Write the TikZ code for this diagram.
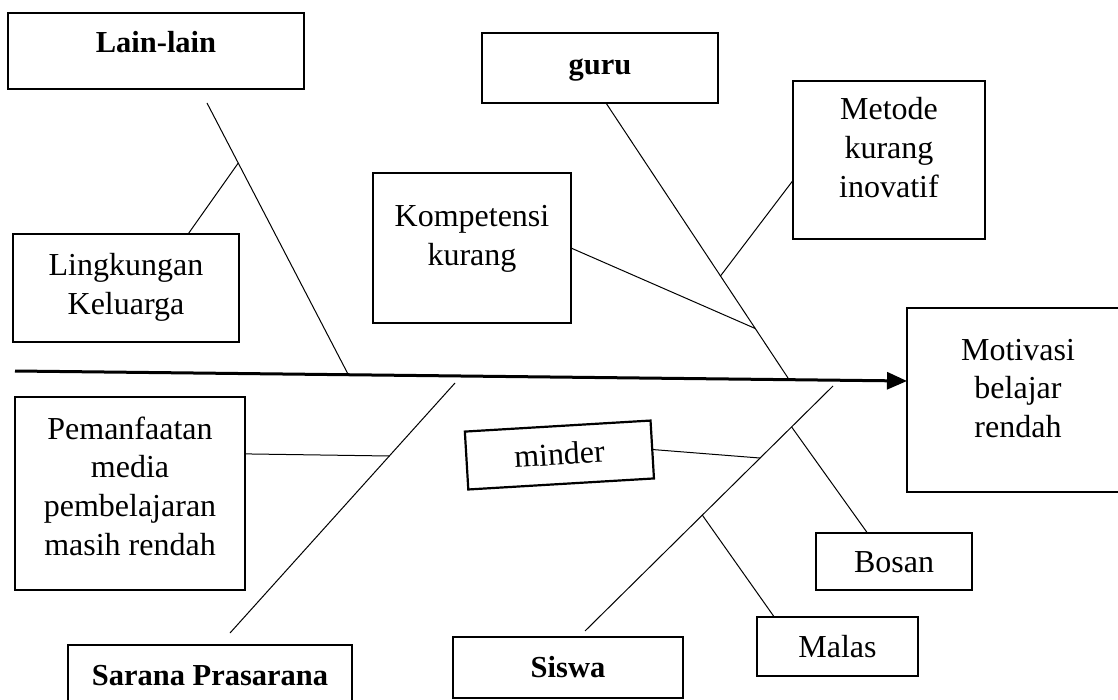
\documentclass[tikz,border=0pt]{standalone}
\usepackage{fontspec}
\setmainfont{Liberation Serif}
\usetikzlibrary{positioning, arrows.meta}

\newcommand{\causetext}[1]{\begin{tabular}[t]{@{}c@{}}#1\end{tabular}}

\begin{document}
\begin{tikzpicture}[x=1pt,y=-1pt]
  \tikzset{CauseStyle/.style = {
    shape         = rectangle,
    draw          = black,
    line width    = 2.2pt,
    text          = black,
    inner xsep    = 0pt,
    inner ysep    = 0pt,
    outer sep     = 0pt,
    anchor        = base,
    font          = \fontsize{32}{38.8}\selectfont
    }
  }
  \tikzset{GroupStyle/.style = {
    CauseStyle,
    font          = \fontsize{30.5}{38.8}\selectfont\bfseries
    }
  }
  \tikzset{BoneStyle/.style = {
    draw          = black,
    line width    = 1pt
    }
  }
  \tikzset{SpineStyle/.style = {
    draw          = black,
    line width    = 3pt,
    -{Triangle[length=20pt,width=17pt]}
    }
  }

  \useasboundingbox (0,0) rectangle (1118,700);

	\node[GroupStyle, minimum width=296pt, text height=40pt, text depth=36pt](lain) at (156, 53) {Lain-lain};
	\node[GroupStyle, minimum width=236pt, text height=42pt, text depth=28pt](guru) at (600, 75) {guru};
	\node[CauseStyle, minimum width=192pt, text height=39pt, text depth=119pt](metode) at (889, 120) {\causetext{Metode\\kurang\\inovatif}};
	\node[CauseStyle, minimum width=198pt, text height=54pt, text depth=96pt](kompetensi) at (472, 227) {\causetext{Kompetensi\\kurang}};
	\node[CauseStyle, minimum width=226pt, text height=42pt, text depth=66pt](lingkungan) at (126, 276) {\causetext{Lingkungan\\Keluarga}};
	\node[CauseStyle, minimum width=222pt, text height=52pt, text depth=132pt](motivasi) at (1018, 360) {\causetext{Motivasi\\belajar\\rendah}};
	\node[CauseStyle, minimum width=230pt, text height=42pt, text depth=151pt](pemanfaatan) at (130, 439) {\causetext{Pemanfaatan\\media\\pembelajaran\\masih rendah}};
	\node[CauseStyle, minimum width=186pt, text height=39pt, text depth=19pt, rotate=3.4](minder) at (560, 465) {minder};
	\node[CauseStyle, minimum width=156pt, text height=39pt, text depth=18pt](bosan) at (894, 572) {Bosan};
	\node[CauseStyle, minimum width=161pt, text height=40pt, text depth=19pt](malas) at (837.5, 657) {Malas};
	\node[GroupStyle, minimum width=230pt, text height=40pt, text depth=21pt](siswa) at (568, 677) {Siswa};
	\node[GroupStyle, minimum width=284pt, text height=40pt, text depth=20pt](sarana) at (210, 685) {Sarana Prasarana};

	% main bone
	\coordinate (tail) at (15, 371);
	\draw[SpineStyle](tail) to (motivasi.west |- 0, 381);

	% category bones
	\coordinate (lainTop) at (207, 103);
	\coordinate (lainEnd) at (349, 376);
	\coordinate (guruTop) at (606, 103);
	\coordinate (guruEnd) at (788, 378);
	\coordinate (saranaTop) at (230, 633);
	\coordinate (saranaEnd) at (455, 383);
	\coordinate (siswaTop) at (585, 631);
	\coordinate (siswaEnd) at (833, 386);
	\draw[BoneStyle](lainTop) -- coordinate[pos=0.22](lainA) (lainEnd);
	\draw[BoneStyle](guruTop) -- coordinate[pos=0.629](guruA) coordinate[pos=0.82](guruB) (guruEnd);
	\draw[BoneStyle](saranaTop) -- coordinate[pos=0.708](saranaA) (saranaEnd);
	\draw[BoneStyle](siswaTop) -- coordinate[pos=0.706](siswaA) coordinate[pos=0.833](siswaB) coordinate[pos=0.473](siswaC) (siswaEnd);

	% causes
	\draw[BoneStyle](lingkungan.41.5) to (lainA);
	\draw[BoneStyle](metode.192) to (guruA);
	\draw[BoneStyle](kompetensi.east) to (guruB);
	\draw[BoneStyle](pemanfaatan.19) to (saranaA);
	\draw[BoneStyle](minder.east) to (siswaA);
	\draw[BoneStyle](bosan.133) to (siswaB);
	\draw[BoneStyle](malas.155) to (siswaC);

\end{tikzpicture}
\end{document}
